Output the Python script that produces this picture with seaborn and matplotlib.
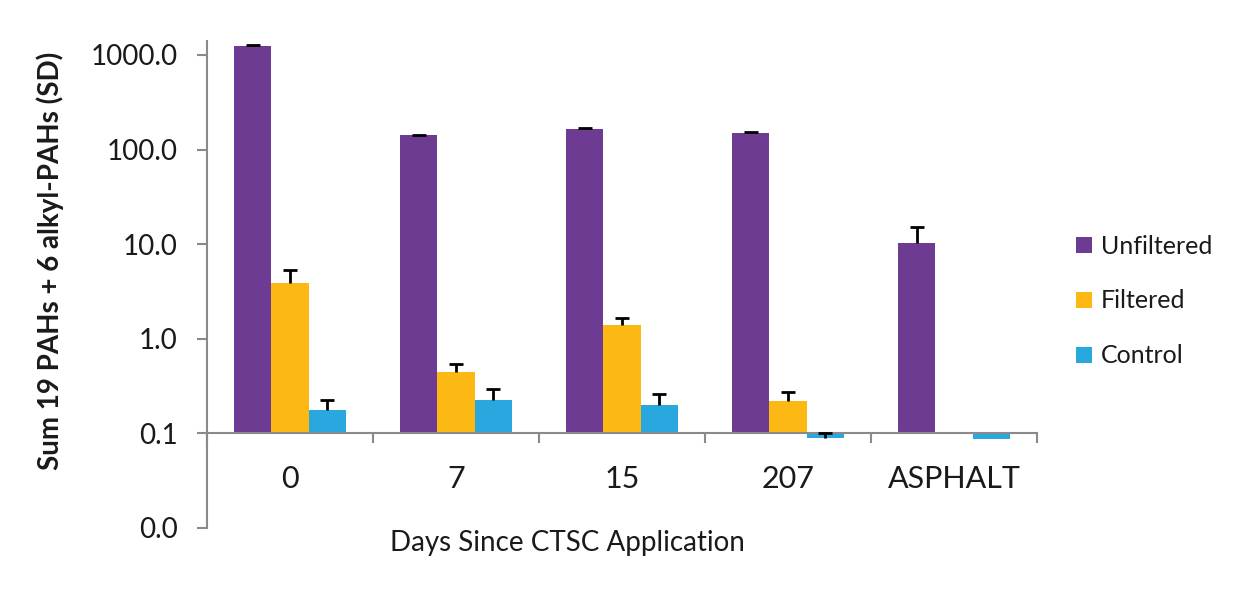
import numpy as np
import pandas as pd
import matplotlib
matplotlib.use("Agg")
import matplotlib.pyplot as plt
import seaborn as sns
from matplotlib.container import BarContainer
from matplotlib.lines import Line2D
from matplotlib.ticker import FixedLocator, NullLocator

# Sum of 19 PAHs + 6 alkyl-PAHs per sampling day, mean and SD
categories = ["0", "7", "15", "207", "ASPHALT"]
groups = ["Unfiltered", "Filtered", "Control"]
unfiltered = [1250, 141, 165, 150, 10.3]
filtered = [3.84, 0.438, 1.39, 0.221, np.nan]
control = [0.175, 0.223, 0.198, 0.0885, 0.0864]
unfiltered_sd = [30, 3, 5, 3, 4.9]
filtered_sd = [1.46, 0.10, 0.28, 0.054, np.nan]
control_sd = [0.05, 0.07, 0.06, 0.012, 0.0]
colors = ["#6D3B92", "#FDB913", "#29A8E0"]

y_ticks = [0.01, 0.1, 1, 10, 100, 1000]
y_tick_labels = ["0.0", "0.1", "1.0", "10.0", "100.0", "1000.0"]

BASE = 0.1          # the category axis crosses the value axis here
GROUP_WIDTH = 0.67
AXIS_GREY = "#8A8A8A"
TEXT = "#1A1A1A"

sns.set_theme(style="white")
plt.rcParams["font.family"] = ["Lato", "DejaVu Sans"]

values = dict(zip(groups, [unfiltered, filtered, control]))
sds = dict(zip(groups, [unfiltered_sd, filtered_sd, control_sd]))

rows = []
for g in groups:
    for cat, v in zip(categories, values[g]):
        if not np.isnan(v):
            rows.append({"day": cat, "group": g, "value": v})
df = pd.DataFrame(rows)

W, H = 1252, 592
fig = plt.figure(figsize=(W / 100, H / 100), dpi=100)
ax = fig.add_axes([207 / W, 1 - 527.6 / H, 830 / W, 486.6 / H])

sns.barplot(data=df, x="day", y="value", hue="group", order=categories,
            hue_order=groups, palette=colors, width=GROUP_WIDTH,
            saturation=1, errorbar=None, legend=False, linewidth=0, ax=ax)

# Re-base every bar on the crossing value so bars below it hang downward,
# and add plus-only SD whiskers.
step = GROUP_WIDTH / len(groups)
bar_containers = [c for c in ax.containers if isinstance(c, BarContainer)]
whiskers = []
for container in bar_containers:
    for patch in container.patches:
        h = patch.get_height()
        cx = patch.get_x() + patch.get_width() / 2
        i = int(round(cx))
        j = int(round((cx - i) / step)) + 1
        g = groups[j]
        patch.set_y(BASE)
        patch.set_height(h - BASE)
        sd = sds[g][i]
        if sd and not np.isnan(sd) and sd > 0:
            whiskers.append((cx, h, sd))

for cx, h, sd in whiskers:
    eb = ax.errorbar(cx, h, yerr=[[0], [sd]], fmt="none", ecolor="black",
                     elinewidth=2, capsize=4.8, capthick=2, zorder=5)
    # keep only the cap at the top end of the whisker
    for cap in eb[1]:
        if np.isclose(cap.get_ydata()[0], h):
            cap.set_visible(False)

ax.set_yscale("log")
ax.set_ylim(0.01, 1406)
ax.set_xlim(-0.5, len(categories) - 0.5)

ax.yaxis.set_major_locator(FixedLocator(y_ticks))
ax.yaxis.set_minor_locator(NullLocator())
ax.set_yticklabels(y_tick_labels)
ax.tick_params(axis="y", which="major", left=True, length=7, width=1.5,
               color=AXIS_GREY, labelsize=20, labelcolor=TEXT, pad=14)

ax.xaxis.set_major_locator(FixedLocator(range(len(categories))))
ax.xaxis.set_minor_locator(FixedLocator(np.arange(-0.5, len(categories), 1.0)))
ax.set_xticklabels(categories)
ax.tick_params(axis="x", which="major", bottom=True, length=0, labelsize=22,
               labelcolor=TEXT, pad=23)
ax.tick_params(axis="x", which="minor", bottom=True, length=7, width=1.5,
               color=AXIS_GREY)
for lbl in ax.get_xticklabels():
    if lbl.get_text() == "ASPHALT":
        lbl.set_fontsize(18)

for side in ["top", "right"]:
    ax.spines[side].set_visible(False)
ax.spines["bottom"].set_position(("data", BASE))
for side in ["left", "bottom"]:
    ax.spines[side].set_color(AXIS_GREY)
    ax.spines[side].set_linewidth(1.5)

ax.set_xlabel("Days Since CTSC Application", fontsize=20, color=TEXT, va="center")
ax.xaxis.set_label_coords((567 - 207) / 830, (527.6 - 543) / 486.6)
ax.set_ylabel("Sum 19 PAHs + 6 alkyl-PAHs (SD)", fontsize=20, fontweight="bold",
              color=TEXT, va="center", ha="center")
ax.yaxis.set_label_coords((50 - 207) / 830, (527.6 - 261) / 486.6)

handles = [Line2D([], [], linestyle="none", marker="s", markersize=12,
                  markerfacecolor=c, markeredgewidth=0) for c in colors]
fig.legend(handles, groups, loc="center left",
           bbox_to_anchor=(1071 / W, 1 - 301 / H), frameon=False,
           fontsize=18, handlelength=1.0, handletextpad=0.2,
           labelspacing=1.27, borderpad=0, borderaxespad=0,
           labelcolor=TEXT)

fig.savefig("out.png", dpi=100, facecolor="white")
